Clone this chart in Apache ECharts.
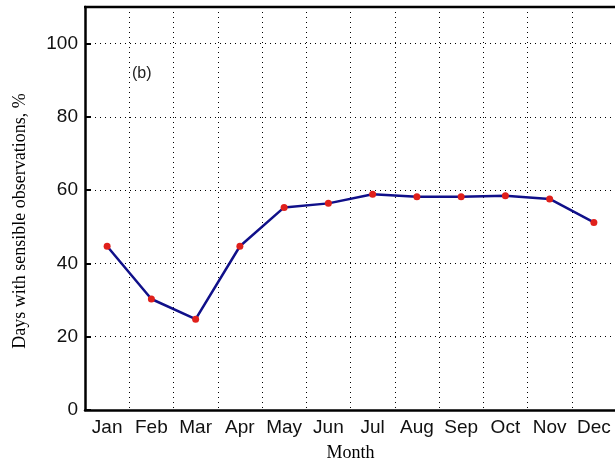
<!DOCTYPE html>
<html>
<head>
<meta charset="utf-8">
<script src="https://cdn.jsdelivr.net/npm/echarts@6/dist/echarts.min.js"></script>
<style>
  html, body { margin: 0; padding: 0; background: #fff; }
  #chart { width: 615px; height: 463px; }
</style>
</head>
<body>
<div id="chart"></div>
<script>
// Monthly share of days with sensible observations (%)
const months = ['Jan', 'Feb', 'Mar', 'Apr', 'May', 'Jun', 'Jul', 'Aug', 'Sep', 'Oct', 'Nov', 'Dec'];
const sensibleDays = [44.7, 30.3, 24.8, 44.7, 55.3, 56.4, 58.9, 58.2, 58.2, 58.5, 57.6, 51.2];
const yTicks = [0, 20, 40, 60, 80, 100];
const yTitle = 'Days with sensible observations, %';

const chart = echarts.init(document.getElementById('chart'), null, { renderer: 'canvas' });

const dotted = { type: [1, 4], color: '#000', width: 1 };

chart.setOption({
  animation: false,
  grid: { left: 85, right: -1, top: 7, bottom: 53, outerBoundsMode: 'none', containLabel: false },
  xAxis: {
    type: 'category',
    data: months,
    boundaryGap: true,
    name: 'Month',
    nameLocation: 'middle',
    nameGap: 34,
    nameTextStyle: { fontFamily: 'Liberation Serif', fontSize: 18, color: '#000' },
    axisLine: { lineStyle: { color: '#000', width: 2.5 } },
    axisTick: { inside: true, length: 6, interval: 0, lineStyle: { color: '#000', width: 2 } },
    axisLabel: { interval: 0, fontFamily: 'Liberation Sans', fontSize: 19, color: '#111', margin: 8 },
    splitLine: { show: true, interval: 0, lineStyle: dotted }
  },
  yAxis: {
    type: 'value',
    min: 0,
    max: 110,
    interval: 20,
    axisLine: { show: true, lineStyle: { color: '#000', width: 2.5 } },
    axisTick: { show: true, inside: true, length: 6, lineStyle: { color: '#000', width: 2 } },
    axisLabel: {
      fontFamily: 'Liberation Sans', fontSize: 19, color: '#111', margin: 7,
      formatter: v => (yTicks.includes(v) ? String(v) : '')
    },
    splitLine: { show: true, lineStyle: dotted }
  },
  graphic: [
    // top frame of the plot box
    { type: 'line', shape: { x1: 84, y1: 7, x2: 615, y2: 7 }, style: { stroke: '#000', lineWidth: 2.5 }, z: 10 },
    { type: 'text', left: 132, top: 66, style: { text: '(b)', font: '16px "Liberation Sans"', fill: '#222' }, z: 10 },
    // vertical axis title
    {
      type: 'text', x: 20, y: 221, rotation: Math.PI / 2,
      style: { text: yTitle, font: '18px "Liberation Serif"', fill: '#000', align: 'center', verticalAlign: 'middle' },
      z: 10
    }
  ],
  series: [{
    type: 'line',
    data: sensibleDays,
    symbol: 'circle',
    symbolSize: 7,
    itemStyle: { color: '#e0201b' },
    lineStyle: { color: '#10108a', width: 2.5 },
    z: 5
  }]
});
</script>
</body>
</html>
